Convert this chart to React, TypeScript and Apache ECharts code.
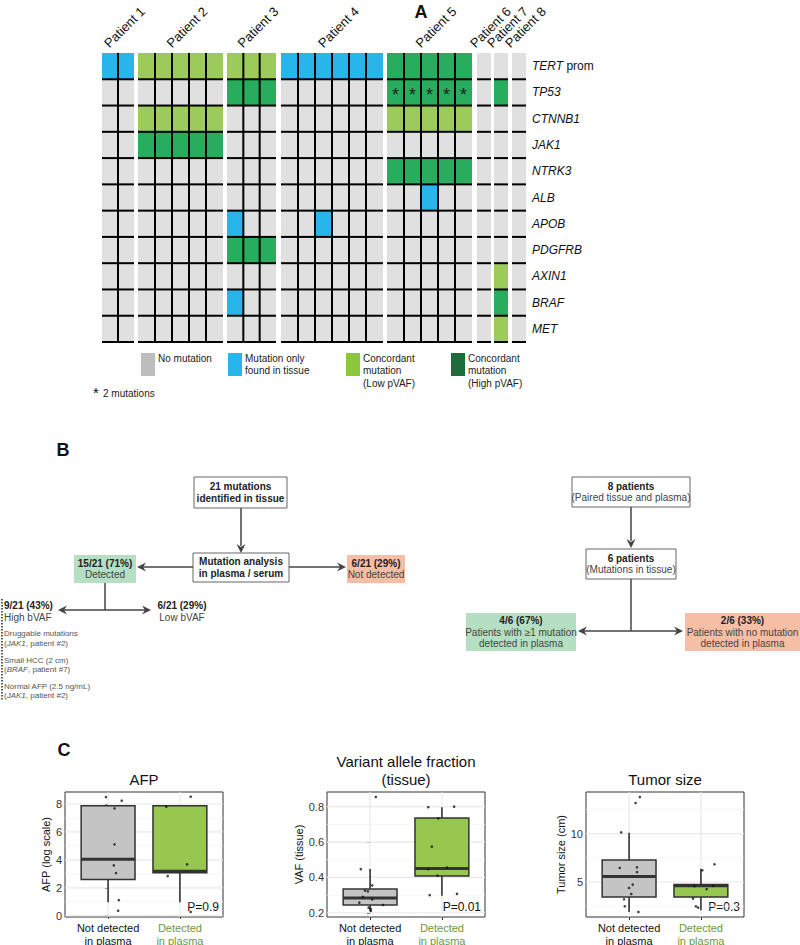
import React, { useEffect, useRef } from 'react';
import * as echarts from 'echarts';

const FONT = '"Liberation Sans", Arial, Helvetica, sans-serif';

// ---------------- Panel A data ----------------
const patients = ['Patient 1', 'Patient 2', 'Patient 3', 'Patient 4', 'Patient 5', 'Patient 6', 'Patient 7', 'Patient 8'];
const samplesPerPatient = [2, 5, 3, 6, 5, 1, 1, 1];
const genes = ['TERT prom', 'TP53', 'CTNNB1', 'JAK1', 'NTRK3', 'ALB', 'APOB', 'PDGFRB', 'AXIN1', 'BRAF', 'MET'];
// one digit per sample: 0 no mutation, 1 only in tissue, 2 concordant (low pVAF), 3 concordant (high pVAF)
const patient1Status: Record<string, string> = { 'TERT prom': '11' };
const patient2Status: Record<string, string> = { 'TERT prom': '22222', CTNNB1: '22222', JAK1: '33333' };
const patient3Status: Record<string, string> = { 'TERT prom': '222', TP53: '333', APOB: '100', PDGFRB: '333', BRAF: '100' };
const patient4Status: Record<string, string> = { 'TERT prom': '111111', APOB: '001000' };
const patient5Status: Record<string, string> = { 'TERT prom': '33333', TP53: '33333', CTNNB1: '22222', NTRK3: '33333', ALB: '00100' };
const patient6Status: Record<string, string> = {};
const patient7Status: Record<string, string> = { TP53: '3', AXIN1: '2', BRAF: '3', MET: '2' };
const patient8Status: Record<string, string> = {};
const patientStatus = [patient1Status, patient2Status, patient3Status, patient4Status, patient5Status, patient6Status, patient7Status, patient8Status];
// cells with 2 mutations (marked *)
const doubleMutations = [{ patient: 'Patient 5', gene: 'TP53', samples: '11111' }];

const legendLabels = ['No mutation', 'Mutation only\nfound in tissue', 'Concordant\nmutation\n(Low pVAF)', 'Concordant\nmutation\n(High pVAF)'];
const legendNote = '2 mutations';

// ---------------- Panel C data ----------------
const groupLabels = ['Not detected\nin plasma', 'Detected\nin plasma'];
// [lower whisker, Q1, median, Q3, upper whisker]
const afpBoxes = [[0.96, 2.6, 4.04, 7.88, 7.88], [0.96, 3.08, 3.18, 7.88, 7.88]];
const afpPoints = [
  [-0.03, 8.5], [0.19, 8.24], [0.09, 7.69], [0.09, 5.11], [0.08, 3.61], [0.11, 3.06], [0.15, 1.12], [0.14, 0.36],
  [1.15, 8.52], [0.81, 7.81], [1.1, 3.68], [0.83, 2.84], [1.15, 0.27],
];
const vafBoxes = [[0.21, 0.244, 0.283, 0.334, 0.447], [0.296, 0.408, 0.451, 0.736, 0.797]];
const vafPoints = [
  [0.08, 0.855], [-0.13, 0.447], [0.03, 0.355], [-0.07, 0.325], [-0.03, 0.321], [-0.1, 0.29], [0.03, 0.276],
  [-0.15, 0.257], [0.18, 0.244], [-0.02, 0.229], [0.01, 0.221], [0.01, 0.21],
  [0.81, 0.797], [1.17, 0.8], [0.95, 0.734], [0.86, 0.574], [0.81, 0.447], [1.07, 0.455], [0.94, 0.41], [0.83, 0.3], [1.21, 0.307],
];
const tumorBoxes = [[1.9, 3.45, 5.56, 7.27, 10.1], [2.08, 3.45, 4.6, 4.75, 6.38]];
const tumorPoints = [
  [0.15, 13.78], [0.09, 13.16], [-0.11, 10.13], [-0.13, 6.45], [0.11, 6.52], [0.11, 6.03], [0.05, 4.73], [0.0, 4.38],
  [0.03, 3.76], [-0.07, 3.21], [-0.06, 2.49], [0.13, 1.9],
  [1.19, 6.83], [1.02, 6.21], [0.91, 4.56], [1.17, 4.59], [1.08, 4.25], [0.89, 3.28], [0.93, 2.49], [0.96, 2.35],
];
const afpMajor = [0, 2, 4, 6, 8];
const afpMinor = [1, 3, 5, 7];
const vafMajor = [0.2, 0.4, 0.6, 0.8];
const vafMinor = [0.3, 0.5, 0.7];
const tumorMajor = [5, 10];
const tumorMinor = [2.5, 7.5, 12.5];
const pValues = ['P=0.9', 'P=0.01', 'P=0.3'];

// ---------------- layout / style ----------------
const heatColors = ['#e0e0e0', '#27b5ea', '#9ccb5b', '#28ad5e'];
const legendColors = ['#bdbdbd', '#27b5ea', '#8cc63f', '#1b6e3b'];
const blockLeft = [102, 138, 227, 281, 387, 477, 494, 512];
const blockWidth = [32, 85, 49, 102, 85, 14, 14, 14];
const HEAT_TOP = 53;
const HEAT_H = 289;
const boxFills = ['#c4c4c4', '#97c74f'];

function arrowHead(tx: number, ty: number, dir: string, color = '#444') {
  const L = 9, Wd = 4.5, N = 3;
  let pts: number[][] = [];
  if (dir === 'down') pts = [[tx, ty], [tx - Wd, ty - L], [tx, ty - L + N], [tx + Wd, ty - L]];
  if (dir === 'left') pts = [[tx, ty], [tx + L, ty - Wd], [tx + L - N, ty], [tx + L, ty + Wd]];
  if (dir === 'right') pts = [[tx, ty], [tx - L, ty - Wd], [tx - L + N, ty], [tx - L, ty + Wd]];
  return { type: 'polygon', shape: { points: pts }, style: { fill: color } };
}
function seg(x1: number, y1: number, x2: number, y2: number, color = '#444', w = 1.5) {
  return { type: 'line', shape: { x1, y1, x2, y2 }, style: { stroke: color, lineWidth: w } };
}
function flowBox(x: number, y: number, w: number, h: number, fill: string, stroke: string, lines: [string, boolean][]) {
  const text = lines.map(([t, b]) => `{${b ? 'b' : 'n'}|${t}}`).join('\n');
  return [
    { type: 'rect', shape: { x, y, width: w, height: h }, style: { fill, stroke, lineWidth: stroke === 'none' ? 0 : 1 } },
    {
      type: 'text', x: x + w / 2, y: y + h / 2,
      style: {
        text, align: 'center', verticalAlign: 'middle',
        rich: {
          b: { fontFamily: FONT, fontSize: 10, fontWeight: 'bold', fill: '#222', lineHeight: 11.5 },
          n: { fontFamily: FONT, fontSize: 10, fill: '#444', lineHeight: 11.5 },
        },
      },
    },
  ];
}
function txt(x: number, y: number, text: string, o: any = {}) {
  return {
    type: 'text', x, y,
    style: { text, fontFamily: FONT, fontSize: 10, fill: '#222', align: 'left', verticalAlign: 'middle', ...o },
  };
}

function buildOption() {
  const grids: any[] = [];
  const xAxes: any[] = [];
  const yAxes: any[] = [];
  const series: any[] = [];

  // ---- Panel A heatmap: one grid per patient ----
  patients.forEach((p, i) => {
    const n = samplesPerPatient[i];
    grids.push({ left: blockLeft[i], top: HEAT_TOP, width: blockWidth[i], height: HEAT_H, outerBoundsMode: 'none' });
    xAxes.push({ type: 'category', gridIndex: i, data: Array.from({ length: n }, (_, k) => String(k)), show: false });
    const isLast = i === patients.length - 1;
    yAxes.push({
      type: 'category', gridIndex: i, data: genes, inverse: true, show: isLast, position: 'right',
      axisLine: { show: false }, axisTick: { show: false }, splitLine: { show: false },
      axisLabel: {
        show: isLast, margin: 6, fontFamily: FONT, fontSize: 12, color: '#111',
        formatter: (v: string) => (v === 'TERT prom' ? '{i|TERT} {n|prom}' : `{i|${v}}`),
        rich: {
          i: { fontFamily: FONT, fontSize: 12, fontStyle: 'italic', color: '#111' },
          n: { fontFamily: FONT, fontSize: 12, color: '#111' },
        },
      },
    });
    const data: any[] = [];
    genes.forEach((g, gi) => {
      const s = patientStatus[i][g] ?? '0'.repeat(n);
      const dm = doubleMutations.find((d) => d.patient === p && d.gene === g);
      for (let c = 0; c < n; c++) {
        data.push([c, gi, Number(s[c]), dm && dm.samples[c] === '1' ? 1 : 0]);
      }
    });
    series.push({
      type: 'custom', xAxisIndex: i, yAxisIndex: i, silent: true, data,
      renderItem: (params: any, api: any) => {
        const c = api.value(0), g = api.value(1), st = api.value(2), star = api.value(3);
        const ctr = api.coord([c, g]);
        const sz = api.size([1, 1]);
        const x0 = ctr[0] - sz[0] / 2, y0 = ctr[1] - sz[1] / 2;
        const children: any[] = [
          { type: 'rect', z2: 0, shape: { x: x0, y: y0, width: sz[0], height: sz[1] }, style: { fill: heatColors[st] } },
          { type: 'line', z2: 10, shape: { x1: x0, y1: y0 + sz[1], x2: x0 + sz[0], y2: y0 + sz[1] }, style: { stroke: '#000', lineWidth: 2 } },
        ];
        if (c < n - 1) {
          children.push({ type: 'line', z2: 10, shape: { x1: x0 + sz[0], y1: y0, x2: x0 + sz[0], y2: y0 + sz[1] }, style: { stroke: '#000', lineWidth: 2 } });
        }
        if (star) {
          children.push({ type: 'text', z2: 11, x: ctr[0], y: ctr[1] + 3, style: { text: '*', fontFamily: FONT, fontSize: 18, fill: '#222', align: 'center', verticalAlign: 'middle' } });
        }
        return { type: 'group', children };
      },
    });
  });

  // ---- Panel C box plots ----
  const plots = [
    { left: 65, boxes: afpBoxes, points: afpPoints, major: afpMajor, minor: afpMinor, range: [-0.09, 8.86], name: 'AFP (log scale)', nameGap: 12 },
    { left: 327, boxes: vafBoxes, points: vafPoints, major: vafMajor, minor: vafMinor, range: [0.176, 0.883], name: 'VAF (tissue)', nameGap: 21 },
    { left: 586, boxes: tumorBoxes, points: tumorPoints, major: tumorMajor, minor: tumorMinor, range: [1.38, 14.3], name: 'Tumor size (cm)', nameGap: 16 },
  ];
  const PT = 792, PH = 125, PW = 158;
  plots.forEach((pl, k) => {
    const gi = patients.length + k;
    grids.push({ left: pl.left, top: PT, width: PW, height: PH, show: true, borderColor: '#333', borderWidth: 1, backgroundColor: 'transparent', outerBoundsMode: 'none' });
    xAxes.push({
      type: 'value', gridIndex: gi, min: -0.6, max: 1.6,
      axisLine: { show: false }, splitLine: { show: false },
      axisTick: { show: true, length: 3, customValues: [0, 1], lineStyle: { color: '#333' } },
      axisLabel: {
        customValues: [0, 1], margin: 4, fontFamily: FONT, fontSize: 11, lineHeight: 13,
        formatter: (v: number) => groupLabels[Math.round(Number(v))],
        color: (v: any) => (Number(v) < 0.5 ? '#111' : '#6a9a3a'),
      },
    });
    yAxes.push({
      type: 'value', gridIndex: gi, min: pl.range[0], max: pl.range[1],
      axisLine: { show: false }, splitLine: { show: false },
      axisTick: { show: true, length: 3, customValues: pl.major, lineStyle: { color: '#333' } },
      axisLabel: { customValues: pl.major, margin: 3, fontFamily: FONT, fontSize: 11, color: '#333' },
      name: pl.name, nameLocation: 'middle', nameGap: pl.nameGap,
      nameTextStyle: { fontFamily: FONT, fontSize: 11, color: '#111' },
    });
    // grid lines
    const glData: any[] = [
      ...pl.major.map((v) => [0, v, 0, 0]),
      ...pl.minor.map((v) => [0, v, 0, 1]),
      ...groupLabels.map((_, g) => [g, pl.range[0], 1, 0]),
    ];
    series.push({
      type: 'custom', xAxisIndex: gi, yAxisIndex: gi, silent: true, z: 1, data: glData,
      renderItem: (params: any, api: any) => {
        const cs = params.coordSys;
        const minor = api.value(3) === 1;
        const style = { stroke: minor ? '#f4f4f4' : '#e8e8e8', lineWidth: minor ? 0.8 : 1.2 };
        if (api.value(2) === 0) {
          const y = api.coord([0, api.value(1)])[1];
          return { type: 'line', shape: { x1: cs.x, y1: y, x2: cs.x + cs.width, y2: y }, style };
        }
        const x = api.coord([api.value(0), pl.range[0]])[0];
        return { type: 'line', shape: { x1: x, y1: cs.y, x2: x, y2: cs.y + cs.height }, style };
      },
    });
    // boxes
    series.push({
      type: 'custom', xAxisIndex: gi, yAxisIndex: gi, silent: true, z: 2,
      encode: { x: 0, y: [1, 2, 3, 4, 5] },
      data: pl.boxes.map((b, g) => [g, ...b]),
      renderItem: (params: any, api: any) => {
        const x = api.value(0);
        const lo = api.coord([x, api.value(1)]);
        const q1 = api.coord([x, api.value(2)]);
        const med = api.coord([x, api.value(3)]);
        const q3 = api.coord([x, api.value(4)]);
        const hi = api.coord([x, api.value(5)]);
        const w = api.size([0.75, 0])[0];
        const stroke = '#333';
        return {
          type: 'group',
          children: [
            { type: 'line', shape: { x1: lo[0], y1: q1[1], x2: lo[0], y2: lo[1] }, style: { stroke, lineWidth: 1.6 } },
            { type: 'line', shape: { x1: hi[0], y1: q3[1], x2: hi[0], y2: hi[1] }, style: { stroke, lineWidth: 1.6 } },
            { type: 'rect', shape: { x: q1[0] - w / 2, y: q3[1], width: w, height: q1[1] - q3[1] }, style: { fill: boxFills[x], stroke, lineWidth: 1.5 } },
            { type: 'line', shape: { x1: med[0] - w / 2, y1: med[1], x2: med[0] + w / 2, y2: med[1] }, style: { stroke, lineWidth: 3 } },
          ],
        };
      },
    });
    series.push({
      type: 'scatter', xAxisIndex: gi, yAxisIndex: gi, silent: true, z: 3,
      data: pl.points, symbolSize: 2.6, itemStyle: { color: '#111' },
    });
  });

  // ---- graphics ----
  const g: any[] = [];
  // panel letters
  g.push(txt(421, 12, 'A', { fontSize: 18, fontWeight: 'bold', align: 'center', fill: '#111' }));
  g.push(txt(63, 450, 'B', { fontSize: 18, fontWeight: 'bold', align: 'center', fill: '#111' }));
  g.push(txt(64, 750, 'C', { fontSize: 18, fontWeight: 'bold', align: 'center', fill: '#111' }));
  // patient labels, rotated 45 degrees
  patients.forEach((p, i) => {
    g.push({
      type: 'group', x: blockLeft[i] + blockWidth[i] / 2 - 7, y: 50, rotation: Math.PI / 4,
      children: [
        { type: 'text', x: 0, y: 0, style: { text: p, fontFamily: FONT, fontSize: 13, fill: '#111', align: 'left', verticalAlign: 'bottom' } },
      ],
    });
  });
  // legend
  const lgX = [141, 228, 346, 451];
  legendLabels.forEach((l, i) => {
    g.push({ type: 'rect', shape: { x: lgX[i], y: 353, width: 14, height: 23 }, style: { fill: legendColors[i] } });
    g.push({
      type: 'text', x: lgX[i] + 17, y: 352,
      style: { text: l, fontFamily: FONT, fontSize: 10, lineHeight: 12.5, fill: '#222', align: 'left', verticalAlign: 'top' },
    });
  });
  g.push(txt(96, 392, '*', { fontSize: 15, align: 'center', fill: '#111' }));
  g.push(txt(103, 393, legendNote, { fontSize: 10 }));

  // Panel B left flowchart
  g.push(...flowBox(194, 477, 93, 31, '#fff', '#666', [['21 mutations', true], ['identified in tissue', true]]));
  g.push(seg(241, 508, 241, 546), arrowHead(241, 553, 'down'));
  g.push(...flowBox(193, 553, 96, 29, '#fff', '#666', [['Mutation analysis', true], ['in plasma / serum', true]]));
  g.push(seg(193, 567, 143, 567), arrowHead(137, 567, 'left'));
  g.push(...flowBox(74, 555, 62, 28, '#b4dfc2', 'none', [['15/21 (71%)', true], ['Detected', false]]));
  g.push(seg(289, 567, 340, 567), arrowHead(346, 567, 'right'));
  g.push(...flowBox(347, 555, 58, 28, '#f7bea6', 'none', [['6/21 (29%)', true], ['Not detected', false]]));
  g.push(seg(105, 583, 105, 610), seg(64, 610, 145, 610), arrowHead(58, 610, 'left'), arrowHead(151, 610, 'right'));
  g.push(txt(4, 605, '9/21 (43%)', { fontWeight: 'bold' }), txt(4, 617, 'High bVAF', { fill: '#444' }));
  g.push(txt(182, 605, '6/21 (29%)', { fontWeight: 'bold', align: 'center' }), txt(182, 617, 'Low bVAF', { fill: '#444', align: 'center' }));
  g.push({ type: 'line', shape: { x1: 2, y1: 599, x2: 2, y2: 700 }, style: { stroke: '#333', lineWidth: 1.6, lineDash: [1.5, 1.5] } });
  const noteRich = { i: { fontFamily: FONT, fontSize: 8, fontStyle: 'italic', fill: '#555' } };
  g.push(txt(4, 633, 'Druggable mutations', { fontSize: 8, fill: '#555' }));
  g.push(txt(4, 643, '({i|JAK1}, patient #2)', { fontSize: 8, fill: '#555', rich: noteRich }));
  g.push(txt(4, 660, 'Small HCC (2 cm)', { fontSize: 8, fill: '#555' }));
  g.push(txt(4, 669, '({i|BRAF}, patient #7)', { fontSize: 8, fill: '#555', rich: noteRich }));
  g.push(txt(4, 686, 'Normal AFP (2.5 ng/mL)', { fontSize: 8, fill: '#555' }));
  g.push(txt(4, 695, '({i|JAK1}, patient #2)', { fontSize: 8, fill: '#555', rich: noteRich }));

  // Panel B right flowchart
  g.push(...flowBox(572, 477, 118, 30, '#fff', '#666', [['8 patients', true], ['(Paired tissue and plasma)', false]]));
  g.push(seg(631, 507, 631, 541), arrowHead(631, 548, 'down'));
  g.push(...flowBox(586, 549, 90, 30, '#fff', '#666', [['6 patients', true], ['(Mutations in tissue)', false]]));
  g.push(seg(631, 579, 631, 631), seg(584, 631, 677, 631), arrowHead(578, 631, 'left'), arrowHead(683, 631, 'right'));
  g.push(...flowBox(466, 613, 110, 38, '#b4dfc2', 'none', [['4/6 (67%)', true], ['Patients with \u22651 mutation', false], ['detected in plasma', false]]));
  g.push(...flowBox(685, 613, 115, 38, '#f7bea6', 'none', [['2/6 (33%)', true], ['Patients with no mutation', false], ['detected in plasma', false]]));

  // Panel C titles and p-values
  const titles = ['AFP', 'Variant allele fraction\n(tissue)', 'Tumor size'];
  plots.forEach((pl, k) => {
    g.push({
      type: 'text', x: pl.left + PW / 2, y: 788,
      style: { text: titles[k], fontFamily: FONT, fontSize: 15, lineHeight: 18, fill: '#111', align: 'center', verticalAlign: 'bottom' },
    });
    g.push({
      type: 'text', x: pl.left + PW - 4, y: PT + PH - 4,
      style: { text: pValues[k], fontFamily: FONT, fontSize: 12, fill: '#111', align: 'right', verticalAlign: 'bottom' },
    });
  });

  return {
    animation: false,
    backgroundColor: '#fff',
    textStyle: { fontFamily: FONT },
    grid: grids,
    xAxis: xAxes,
    yAxis: yAxes,
    series,
    graphic: g,
  };
}

export default function App() {
  const ref = useRef<HTMLDivElement>(null);
  useEffect(() => {
    const chart = echarts.init(ref.current as HTMLDivElement, null, { renderer: 'svg' });
    chart.setOption(buildOption() as any);
    return () => chart.dispose();
  }, []);
  return <div ref={ref} style={{ position: 'absolute', left: 0, top: 0, width: 800, height: 945, background: '#fff' }} />;
}
